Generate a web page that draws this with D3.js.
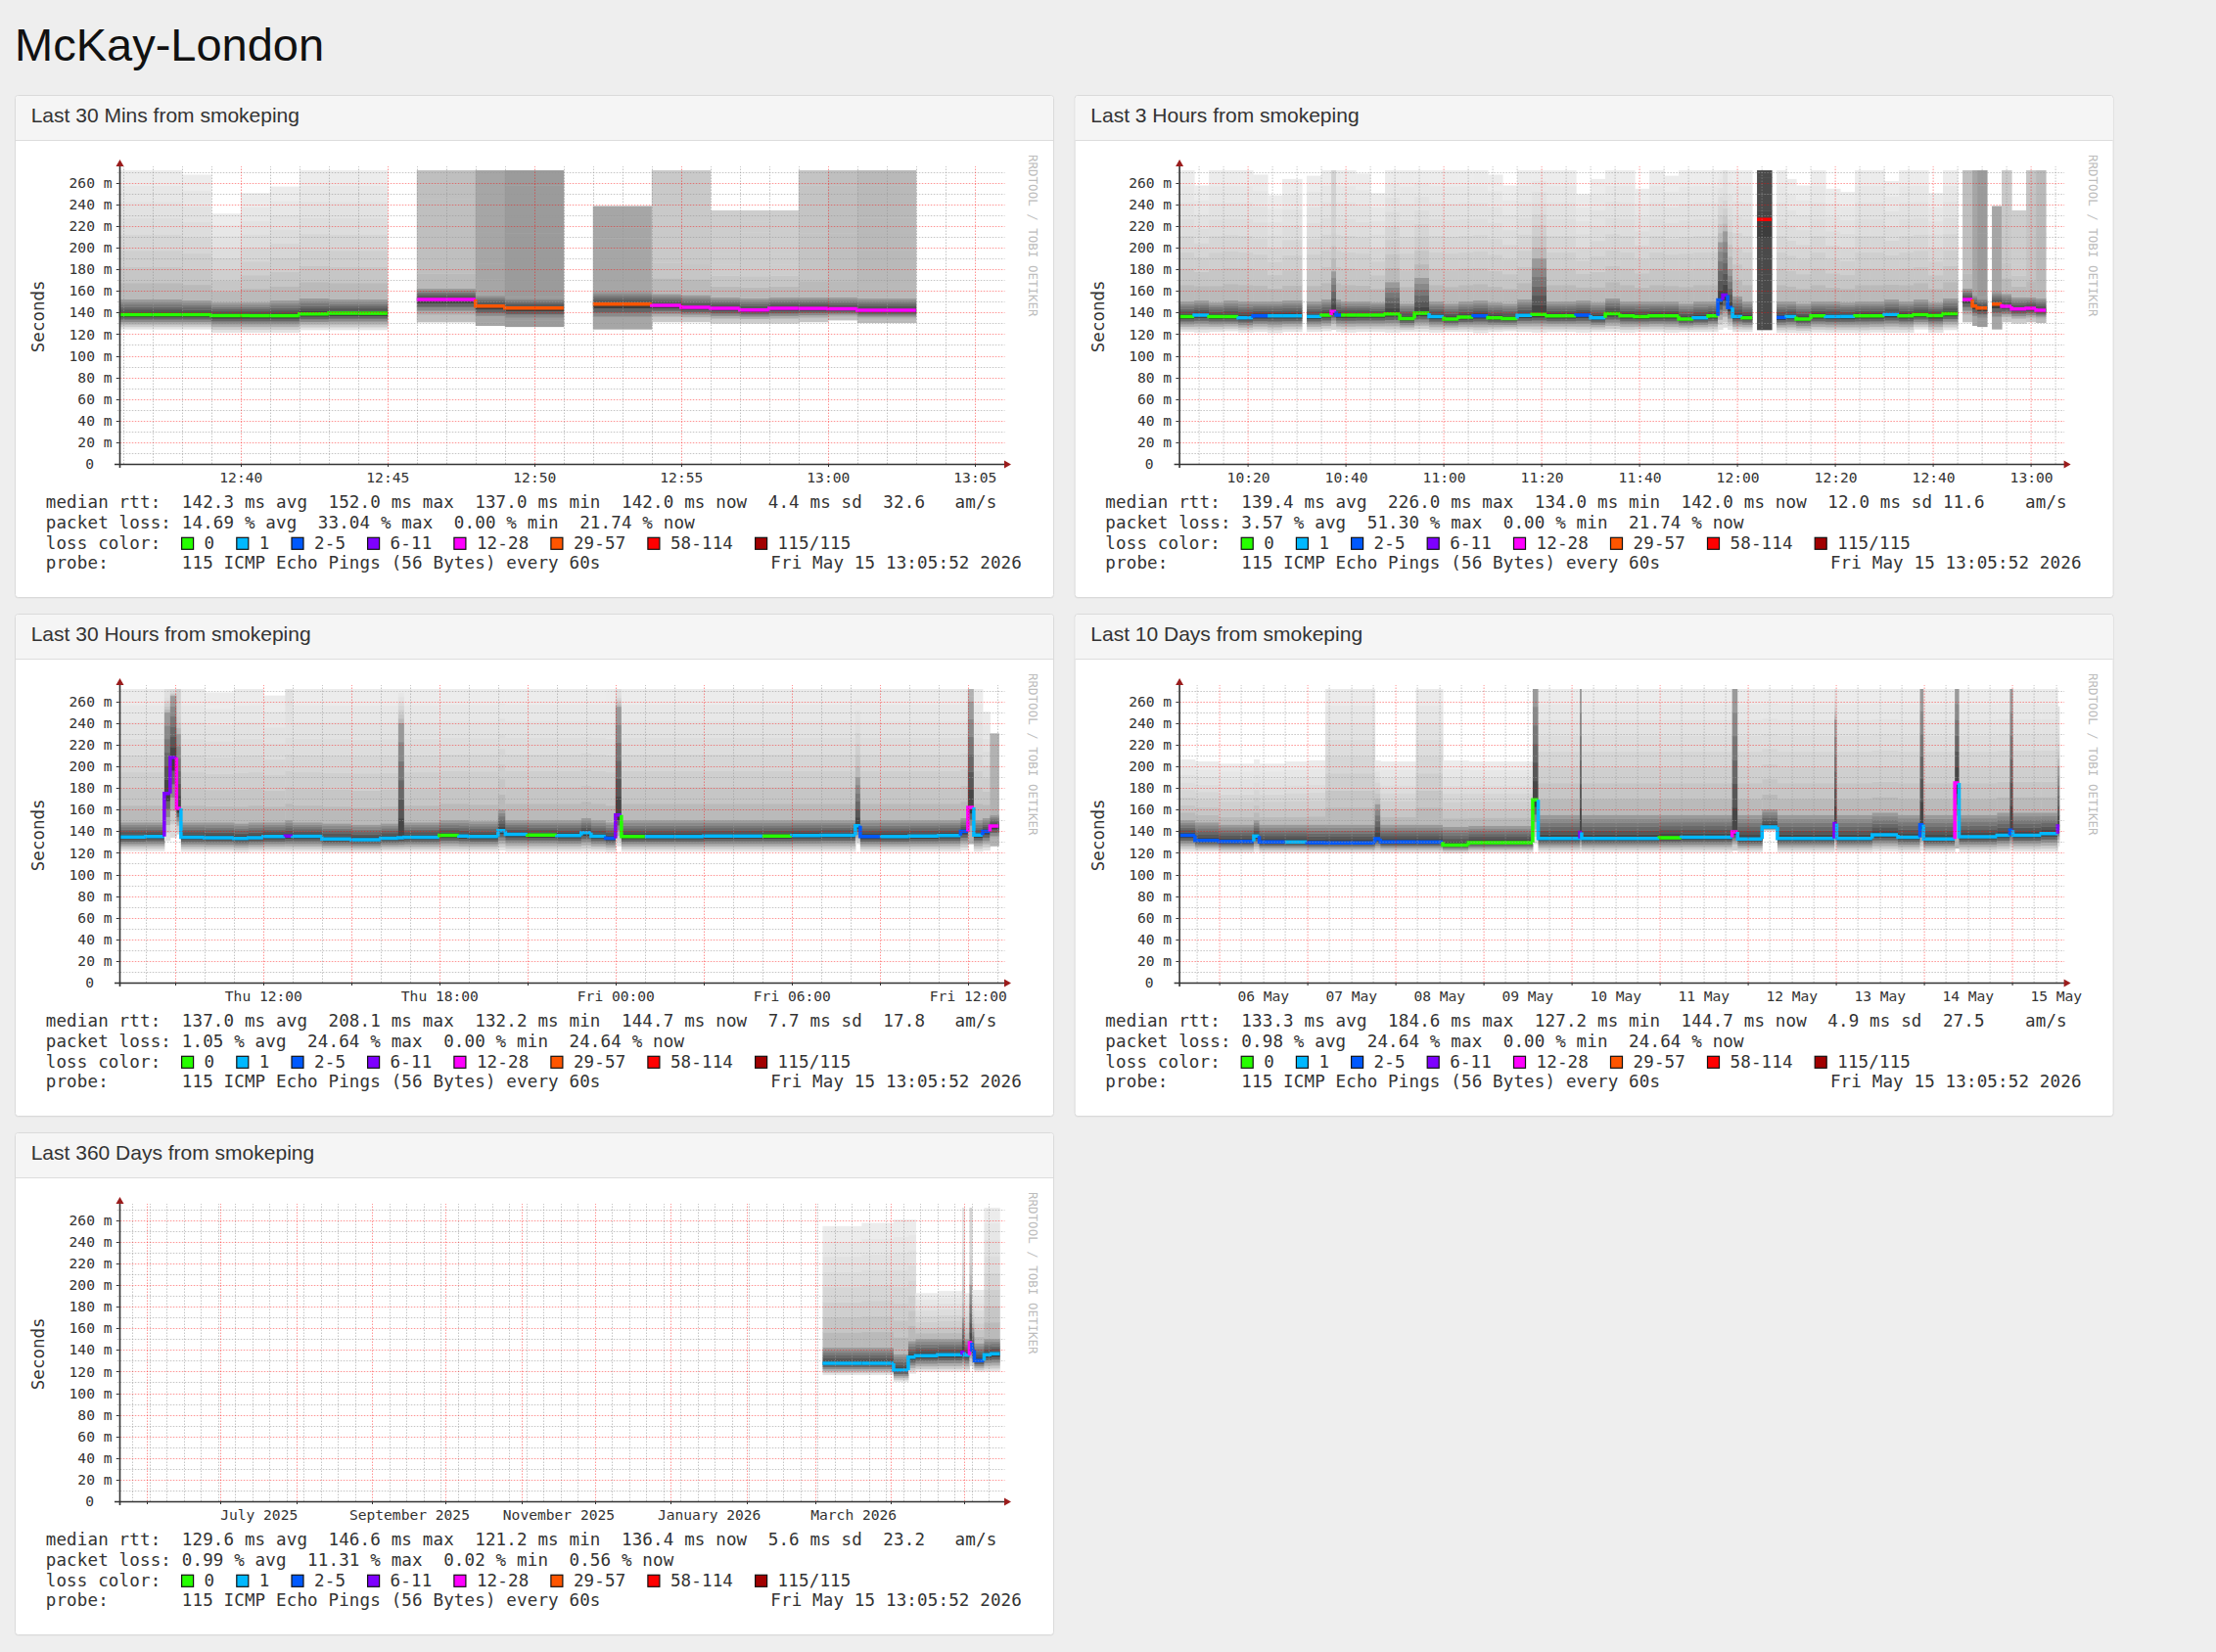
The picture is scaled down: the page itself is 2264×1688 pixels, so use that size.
<!DOCTYPE html>
<html>
<head>
<meta charset="utf-8">
<title>McKay-London</title>
<script src="https://cdn.jsdelivr.net/npm/d3@7"></script>
<style>
  html, body { margin: 0; padding: 0; background: #eeeeee; }
  svg { display: block; }
  .mono { font-family: "DejaVu Sans Mono", monospace; }
  .sans { font-family: "Liberation Sans", Arial, Helvetica, sans-serif; }
</style>
</head>
<body>
<svg id="page" width="2264" height="1688"></svg>
<script>
// ---------- data ----------
const pageTitle = "McKay-London";
const endStamp = "2026-05-15 13:05:52";
const lossColors = ["#26ff00", "#00b8ff", "#0059ff", "#7e00ff", "#ff00ff", "#ff5500", "#ff0000", "#a10000"];
const lossLabels = ["0", "1", "2-5", "6-11", "12-28", "29-57", "58-114", "115/115"];
const yTicks = [0, 20, 40, 60, 80, 100, 120, 140, 160, 180, 200, 220, 240, 260];
const probeText = "115 ICMP Echo Pings (56 Bytes) every 60s";
const stampText = "Fri May 15 13:05:52 2026";

// last 30 mins (bin start times, each bin ends where the next one starts)
const p1Time = ["12:35","12:37","12:38","12:39","12:40","12:41","12:42","12:43","12:44","12:45","12:46","12:48","12:49","12:51","12:52","12:54","12:55","12:56","12:57","12:58","12:59","13:00","13:01"];
const p1End = "13:03";
const p1Med = [137.9,137.9,137.9,137.0,137.0,137.0,138.8,139.3,139.3,null,152.0,145.9,144.1,null,147.8,146.5,144.9,143.8,142.4,143.8,143.8,143.4,142.0];
const p1Lo = [124.3,124.3,124.3,121.3,121.3,121.3,123.7,123.7,123.7,null,130.9,127.6,126.6,null,124.3,131.0,131.0,129.7,129.7,129.7,131.0,132.7,130.3];
const p1Q3 = [152,152,151,149,149,151,153,152,152,null,162,156,154,null,159,157,156,154,153,154,154,154,153];
const p1Hi = [272,272,267,231,250,256,272,272,272,null,272,272,272,null,238,272,272,234,234,234,272,272,272];
const p1Loss = [0,0,0,0,0,0,0,0,0,null,22,33,38,null,33,18,18,16,16,16,20,22,25];
const p1LabelAt = ["12:40","12:45","12:50","12:55","13:00","13:05"];
const p1LabelText = ["12:40","12:45","12:50","12:55","13:00","13:05"];
const p1Rtt = ["142.3","152.0","137.0","142.0","4.4","32.6"];
const p1Pl = ["14.69","33.04","0.00","21.74"];

// last 3 hours
const p2Time = ["10:05","10:09","10:12","10:15","10:18","10:21","10:24","10:27","10:31","10:32","10:35","10:37","10:38","10:39","10:42","10:45","10:48","10:51","10:54","10:57","11:00","11:03","11:06","11:09","11:12","11:15","11:18","11:21","11:24","11:27","11:30","11:33","11:36","11:39","11:42","11:45","11:48","11:51","11:54","11:56","11:57","11:58","11:59","12:01","12:03","12:04","12:07","12:08","12:10","12:12","12:15","12:18","12:21","12:24","12:27","12:30","12:33","12:36","12:39","12:42","12:45","12:46","12:48","12:49","12:51","12:52","12:54","12:56","12:59","13:01"];
const p2End = "13:03";
const p2Med = [136.3,137.6,136.3,136.3,135.1,136.9,136.9,136.9,null,136.3,137.6,140.9,137.6,137.6,137.6,137.6,138.8,134.5,139.4,136.3,134.0,135.7,136.9,135.1,134.5,137.3,138.2,136.9,136.9,137.6,135.1,139.0,136.9,136.3,136.9,136.9,134.0,135.1,136.9,151.5,156.0,144.5,136.3,135.1,null,226.0,null,135.4,136.3,134.0,136.9,136.3,136.3,136.9,136.9,138.2,136.9,137.9,137.0,139.0,null,152.0,145.9,144.1,null,147.8,145.7,143.3,143.8,142.0];
const p2Lo = [122,121.5,122,122.5,121.5,122,121,122,null,122,122.5,124,122,121.5,122,122,121.5,122,122,121.5,122,122,121,122,122.5,122,121.5,122,122,121.5,122,122,121.5,122,122,121.5,122,122,122,124,126,124,122,122,null,123.7,null,121.3,121.3,121,121.5,121.3,121.3,121,121.5,121.3,121.3,124.3,121.3,123.7,null,130.9,127.6,126.6,null,124.3,131.0,129.7,131.0,130.3];
const p2Q3 = [150,151,149,151,150,150,150,151,null,150,152,178,152,150,150,149,168,148,172,150,148,150,151,149,148,152,190,150,150,151,149,153,150,150,150,150,148,150,150,205,215,180,155,150,null,272,null,150,150,148,150,150,149,150,150,152,150,152,149,153,null,162,156,154,null,159,157,154,154,153];
const p2Hi = [272,257,272,272,272,267,248,263,null,266,272,272,272,272,268,250,272,272,272,272,272,272,272,267,257,272,272,272,272,249,263,272,272,254,272,266,272,272,272,272,272,272,272,272,null,272,null,272,263,257,272,254,251,272,272,261,272,272,250,272,null,272,272,272,null,238,272,234,272,272];
const p2Loss = [0,1,0,0,1,3,1,1,null,1,0,14,3,0,0,0,0,0,0,1,0,0,3,0,0,1,0,0,0,3,1,0,0,0,0,0,0,1,0,4,8,3,1,0,null,59,null,3,1,0,0,1,1,0,0,1,0,0,0,0,null,22,33,38,null,33,18,16,20,25];
const p2LabelAt = ["10:20","10:40","11:00","11:20","11:40","12:00","12:20","12:40","13:00"];
const p2LabelText = ["10:20","10:40","11:00","11:20","11:40","12:00","12:20","12:40","13:00"];
const p2Rtt = ["139.4","226.0","134.0","142.0","12.0","11.6"];
const p2Pl = ["3.57","51.30","0.00","21.74"];

// last 30 hours
const p3Time = ["05-14 07:00","05-14 08:00","05-14 08:38","05-14 08:50","05-14 09:03","05-14 09:12","05-14 10:00","05-14 11:00","05-14 11:30","05-14 12:00","05-14 12:45","05-14 13:00","05-14 14:00","05-14 15:00","05-14 16:00","05-14 16:36","05-14 16:48","05-14 18:00","05-14 18:40","05-14 19:00","05-14 20:00","05-14 20:15","05-14 21:00","05-14 22:00","05-14 22:50","05-14 23:10","05-14 23:40","05-15 00:00","05-15 00:12","05-15 01:00","05-15 02:00","05-15 03:00","05-15 04:00","05-15 05:00","05-15 06:00","05-15 07:00","05-15 08:10","05-15 08:20","05-15 09:00","05-15 10:00","05-15 11:00","05-15 11:45","05-15 12:00","05-15 12:12","05-15 12:30","05-15 12:45"];
const p3End = "05-15 13:03";
const p3Med = [134.7,135.0,175.0,208.1,161.0,134.5,134.0,133.2,134.0,135.0,135.5,135.3,132.8,132.2,133.5,133.9,134.5,136.3,135.5,135.0,140.5,137.0,136.5,136.0,138.6,135.4,133.5,155.0,135.0,135.0,135.0,135.5,135.5,135.5,136.0,136.3,145.0,135.0,135.0,135.5,136.0,139.8,162.0,136.5,139.8,144.7];
const p3Lo = [121.5,121.5,131,134,137,121,121,120.5,121,121,121,121,120.5,120.5,121,121,121,121,121,121,122,121,121,121,121,121,120.5,126,121,121,121,121,121,121,121,121,128,121,121,121,121,122,128,121,122,126];
const p3Q3 = [148,148,250,265,230,148,148,147,148,148,150,148,147,146,147,240,148,150,150,149,160,150,150,150,152,150,148,255,150,150,150,150,150,150,150,150,190,150,150,150,150,152,260,150,152,155];
const p3Hi = [272,272,272,272,272,272,268,272,272,265,272,272,272,272,272,272,272,272,272,272,272,272,272,272,272,272,272,272,272,272,272,272,272,272,272,272,272,272,272,272,272,272,272,272,250,230];
const p3Loss = [1,1,8,10,14,1,1,1,1,1,7,1,1,1,1,1,1,0,1,1,1,1,0,1,1,1,3,8,0,1,1,1,1,0,1,1,1,3,1,1,1,3,28,1,3,28];
const p3LabelAt = ["05-14 12:00","05-14 18:00","05-15 00:00","05-15 06:00","05-15 12:00"];
const p3LabelText = ["Thu 12:00","Thu 18:00","Fri 00:00","Fri 06:00","Fri 12:00"];
const p3Rtt = ["137.0","208.1","132.2","144.7","7.7","17.8"];
const p3Pl = ["1.05","24.64","0.00","24.64"];

// last 10 days
const p4Time = ["05-05 13:00","05-05 17:30","05-06 00:00","05-06 09:30","05-06 11:00","05-06 18:00","05-07 00:00","05-07 05:00","05-07 18:30","05-07 20:00","05-08 05:40","05-08 13:00","05-08 20:00","05-09 13:30","05-09 15:00","05-10 02:20","05-10 02:50","05-11 00:00","05-11 06:00","05-11 19:50","05-11 21:20","05-12 04:00","05-12 08:10","05-12 23:40","05-13 00:20","05-13 10:00","05-13 17:00","05-13 23:00","05-14 00:00","05-14 08:30","05-14 09:40","05-14 20:00","05-14 23:30","05-15 00:20","05-15 08:00","05-15 12:30"];
const p4End = "05-15 13:03";
const p4Med = [136.3,131.5,130.5,135.5,130.0,130.0,129.5,129.3,133.0,130.0,130.0,127.2,129.5,169.0,133.3,139.0,133.3,134.0,134.3,139.4,132.7,143.8,133.3,147.0,133.3,136.6,134.5,146.0,132.7,184.6,134.8,136.3,141.0,136.3,137.8,144.7];
const p4Lo = [121,121,120,121,120,120,120,120,120,120,120,119.5,120,128,120.5,121,120.5,120.5,120.5,122,120.5,140,120.5,122,120.5,121,120.5,122,120.5,124,120.5,121,122,121,121,126];
const p4Q3 = [150,148,146,150,146,146,146,146,165,146,146,144,145,272,155,272,155,155,155,272,155,160,155,243,155,157,155,272,155,272,155,157,272,157,157,200];
const p4Hi = [206,204,202,206,202,204,205,272,205,204,272,205,204,272,272,272,272,272,272,272,272,272,272,272,272,272,272,272,272,272,272,272,272,272,272,255];
const p4Loss = [3,3,3,1,3,1,3,3,3,3,3,0,0,0,1,7,1,0,1,15,1,1,1,7,1,1,1,3,1,28,1,1,3,1,1,8];
const p4LabelAt = ["05-06 12:00","05-07 12:00","05-08 12:00","05-09 12:00","05-10 12:00","05-11 12:00","05-12 12:00","05-13 12:00","05-14 12:00","05-15 12:00"];
const p4LabelText = ["06 May","07 May","08 May","09 May","10 May","11 May","12 May","13 May","14 May","15 May"];
const p4Rtt = ["133.3","184.6","127.2","144.7","4.9","27.5"];
const p4Pl = ["0.98","24.64","0.00","24.64"];

// last 360 days
const p5Time = ["2026-03-04","2026-03-20","2026-04-02","2026-04-08","2026-04-11","2026-04-20","2026-04-30","2026-05-01","2026-05-03","2026-05-04","2026-05-05","2026-05-09","2026-05-12"];
const p5End = "2026-05-15 13:03";
const p5Med = [127.7,127.7,121.2,133.2,134.7,135.5,137.7,135.0,146.6,140.0,130.1,135.5,136.4];
const p5Lo = [116.7,116.7,110.6,118,119.7,119.7,120,119.7,125,122,119.7,120,120];
const p5Q3 = [142,142,136,148,150,150,170,150,200,160,146,150,150];
const p5Hi = [254,257,260,260,192,194,272,192,272,195,195,272,272];
const p5Loss = [1,1,1,1,1,1,6,1,13,3,2,1,1];
const p5LabelAt = ["2025-07-16 12:00","2025-09-16 00:00","2025-11-16 00:00","2026-01-16 12:00","2026-03-16 12:00"];
const p5LabelText = ["July 2025","September 2025","November 2025","January 2026","March 2026"];
const p5Rtt = ["129.6","146.6","121.2","136.4","5.6","23.2"];
const p5Pl = ["0.99","11.31","0.02","0.56"];

// ---------- layout ----------
const PW = 1062, PH = 514, HH = 46;
const PANEL_X = [15, 1097.6], PANEL_Y = [97, 627, 1157];
const X0 = 106.8, X1 = 1006.8, YB = 377, YT = 77, GRID_R = 1011.5;
const ROWS = [422.3, 443, 463.7, 484.3];

const parseFull = d3.timeParse("%Y-%m-%d %H:%M");
const endTime = d3.timeParse("%Y-%m-%d %H:%M:%S")(endStamp);
function toDate(s) {
  if (s.length === 5) return parseFull("2026-05-15 " + s);
  if (s.length === 10) return parseFull(s + " 00:00");
  if (s.length === 11) return parseFull("2026-" + s);
  return parseFull(s);
}
// keep the runs of spaces of the rrdtool legend
const keep = s => s.replace(/ /g, "\u00a0");

const HOUR = 3600e3, DAY = 24 * HOUR;
const panels = [
  { title: "Last 30 Mins from smokeping", span: 0.5 * HOUR, time: p1Time, end: p1End, med: p1Med, lo: p1Lo, q3: p1Q3, hi: p1Hi, loss: p1Loss,
    at: p1LabelAt, txt: p1LabelText, minor: d3.timeMinute.every(1), major: d3.timeMinute.every(5), rtt: p1Rtt, pl: p1Pl, col: 0, row: 0, amX: 960.6 },
  { title: "Last 3 Hours from smokeping", span: 3 * HOUR, time: p2Time, end: p2End, med: p2Med, lo: p2Lo, q3: p2Q3, hi: p2Hi, loss: p2Loss,
    at: p2LabelAt, txt: p2LabelText, minor: d3.timeMinute.every(5), major: d3.timeMinute.every(20), rtt: p2Rtt, pl: p2Pl, col: 1, row: 0, amX: 971.4 },
  { title: "Last 30 Hours from smokeping", span: 30 * HOUR, time: p3Time, end: p3End, med: p3Med, lo: p3Lo, q3: p3Q3, hi: p3Hi, loss: p3Loss,
    at: p3LabelAt, txt: p3LabelText, minor: d3.timeHour.every(1), major: d3.timeHour.every(3), rtt: p3Rtt, pl: p3Pl, col: 0, row: 1, amX: 960.6 },
  { title: "Last 10 Days from smokeping", span: 10 * DAY, time: p4Time, end: p4End, med: p4Med, lo: p4Lo, q3: p4Q3, hi: p4Hi, loss: p4Loss,
    at: p4LabelAt, txt: p4LabelText, minor: d3.timeHour.every(6), major: d3.timeDay, rtt: p4Rtt, pl: p4Pl, col: 1, row: 1, amX: 971.4 },
  { title: "Last 360 Days from smokeping", span: 360 * DAY, time: p5Time, end: p5End, med: p5Med, lo: p5Lo, q3: p5Q3, hi: p5Hi, loss: p5Loss,
    at: p5LabelAt, txt: p5LabelText, minor: d3.timeMonday, major: d3.timeMonth, rtt: p5Rtt, pl: p5Pl, col: 0, row: 2, amX: 960.6 }
];

function lossClass(L) {
  if (L === 0) return 0;
  if (L === 1) return 1;
  if (L <= 5) return 2;
  if (L <= 11) return 3;
  if (L <= 28) return 4;
  if (L <= 57) return 5;
  if (L <= 114) return 6;
  return 7;
}
// grey level of the smoke above the received pings, darker when more were lost
function lossShade(L) {
  if (L <= 40) return 242 - 2.3 * L;
  const r = 1 - L / 115;
  return 70 + 170 * Math.abs(2 * r - 1);
}
function grey(v) { const c = Math.round(Math.max(40, Math.min(245, v))); return `rgb(${c},${c},${c})`; }

function smokeBands(lo, med, q3, hi, L) {
  const out = [], K = 6, ls = lossShade(L);
  for (let k = 0; k < K; k++) {
    const f = (k + 0.5) / K;
    out.push([lo + (med - lo) * k / K, lo + (med - lo) * (k + 1) / K, Math.min(235 - 195 * Math.pow(f, 1.3), ls)]);
  }
  for (let k = 0; k < K; k++) {
    const g = (k + 0.5) / K;
    out.push([med + (q3 - med) * k / K, med + (q3 - med) * (k + 1) / K, Math.min(62 + 100 * g, ls)]);
  }
  const KT = 8;
  for (let k = 0; k < KT; k++) {
    const h = (k + 0.5) / KT;
    out.push([q3 + (hi - q3) * k / KT, q3 + (hi - q3) * (k + 1) / KT, Math.min(168 + 70 * Math.pow(h, 0.5), ls)]);
  }
  return out;
}

const svg = d3.select("#page");
svg.append("text").attr("class", "sans").attr("x", 15).attr("y", 62)
  .attr("font-size", 47).attr("fill", "#111").text(pageTitle);

panels.forEach((p, i) => drawPanel(p, i));

function drawPanel(p, idx) {
  const g = svg.append("g").attr("transform", `translate(${PANEL_X[p.col]},${PANEL_Y[p.row]})`);

  // frame + heading
  g.append("rect").attr("x", 0.5).attr("y", 1.5).attr("width", PW - 1).attr("height", PH - 1)
    .attr("rx", 3).attr("fill", "#e2e2e2");
  g.append("rect").attr("x", 0.5).attr("y", 0.5).attr("width", PW - 1).attr("height", PH - 1)
    .attr("rx", 3).attr("fill", "#ffffff").attr("stroke", "#dadada");
  g.append("path").attr("d", `M1,${HH} V4 Q1,1 4,1 H${PW - 4} Q${PW - 1},1 ${PW - 1},4 V${HH} Z`).attr("fill", "#f5f5f5");
  g.append("line").attr("x1", 1).attr("x2", PW - 1).attr("y1", HH + 0.5).attr("y2", HH + 0.5).attr("stroke", "#dddddd");
  g.append("text").attr("class", "sans").attr("x", 16.7).attr("y", 28).attr("font-size", 21)
    .attr("fill", "#333").text(p.title);

  const start = new Date(+endTime - p.span);
  const x = d3.scaleTime().domain([start, endTime]).range([X0, X1]);
  const y = d3.scaleLinear().domain([0, 271.5]).range([YB, YT]);

  const clipId = "plotclip" + idx;
  g.append("clipPath").attr("id", clipId).append("rect")
    .attr("x", X0).attr("y", YT).attr("width", X1 - X0).attr("height", YB - YT);
  const plot = g.append("g").attr("clip-path", `url(#${clipId})`);

  // bins
  const bins = p.time.map((t, i) => ({
    t0: toDate(t), t1: toDate(i + 1 < p.time.length ? p.time[i + 1] : p.end),
    med: p.med[i], lo: p.lo[i], q3: p.q3[i], hi: p.hi[i], loss: p.loss[i]
  }));

  // smoke
  const rects = [];
  bins.forEach(b => {
    if (b.med == null) return;
    smokeBands(b.lo, b.med, b.q3, b.hi, b.loss).forEach(([v0, v1, c]) => {
      if (v1 > v0) rects.push({ t0: b.t0, t1: b.t1, v0, v1, c });
    });
  });
  plot.append("g").selectAll("rect").data(rects).join("rect")
    .attr("x", d => x(d.t0))
    .attr("width", d => x(d.t1) - x(d.t0) + 0.5)
    .attr("y", d => y(d.v1) - 0.5)
    .attr("height", d => y(d.v0) - y(d.v1) + 0.5)
    .attr("fill", d => grey(d.c));

  // grid
  const grid = g.append("g").attr("fill", "none").attr("stroke-width", 1).attr("stroke-dasharray", "1.5,1.5");
  const majorT = p.major.range(start, endTime);
  const majorSet = new Set(majorT.map(Number));
  const minorT = p.minor.range(start, endTime).filter(t => !majorSet.has(+t));
  const hMinor = d3.range(10, 271, 20), hMajor = yTicks.filter(v => v > 0);
  grid.selectAll("line.hmin").data(hMinor).join("line").attr("class", "hmin")
    .attr("x1", X0 - 2).attr("x2", GRID_R).attr("y1", d => Math.round(y(d)) + 0.5).attr("y2", d => Math.round(y(d)) + 0.5)
    .attr("stroke", "rgba(150,150,150,0.55)");
  grid.selectAll("line.vmin").data(minorT).join("line").attr("class", "vmin")
    .attr("x1", d => Math.round(x(d)) + 0.5).attr("x2", d => Math.round(x(d)) + 0.5).attr("y1", YB).attr("y2", YT - 4)
    .attr("stroke", "rgba(150,150,150,0.55)");
  grid.selectAll("line.hmaj").data(hMajor).join("line").attr("class", "hmaj")
    .attr("x1", X0 - 2).attr("x2", GRID_R).attr("y1", d => Math.round(y(d)) + 0.5).attr("y2", d => Math.round(y(d)) + 0.5)
    .attr("stroke", "rgba(255,0,0,0.42)");
  grid.selectAll("line.vmaj").data(majorT).join("line").attr("class", "vmaj")
    .attr("x1", d => Math.round(x(d)) + 0.5).attr("x2", d => Math.round(x(d)) + 0.5).attr("y1", YB).attr("y2", YT - 4)
    .attr("stroke", "rgba(255,0,0,0.42)");

  // median rtt, coloured by packet loss
  const medG = plot.append("g").attr("fill", "none").attr("stroke-width", 3.5).attr("stroke-linejoin", "miter");
  bins.forEach((b, i) => {
    if (b.med == null) return;
    const prev = i > 0 ? bins[i - 1] : null;
    const ym = y(b.med), xa = x(b.t0), xb = x(b.t1);
    const d = (prev && prev.med != null)
      ? `M${xa},${y(prev.med)}V${ym}H${xb}`
      : `M${xa},${ym}H${xb}`;
    medG.append("path").attr("d", d).attr("stroke", lossColors[lossClass(b.loss)]);
  });

  // axes
  const axisCol = "#333";
  g.append("line").attr("x1", 102).attr("x2", 1013).attr("y1", YB + 0.5).attr("y2", YB + 0.5)
    .attr("stroke", axisCol).attr("stroke-width", 1.6);
  g.append("line").attr("x1", X0 + 0.7).attr("x2", X0 + 0.7).attr("y1", YB + 4).attr("y2", 71)
    .attr("stroke", axisCol).attr("stroke-width", 1.6);
  g.append("path").attr("d", `M1018,${YB + 0.5} L1011,${YB - 3.5} L1011,${YB + 4.5} Z`).attr("fill", "#9b1c1c");
  g.append("path").attr("d", `M${X0 + 0.7},66 L${X0 - 3.3},73 L${X0 + 4.7},73 Z`).attr("fill", "#9b1c1c");
  g.append("g").selectAll("line").data(majorT).join("line")
    .attr("x1", d => Math.round(x(d)) + 0.5).attr("x2", d => Math.round(x(d)) + 0.5)
    .attr("y1", YB).attr("y2", YB + 3).attr("stroke", axisCol);
  g.append("g").selectAll("line").data(hMajor).join("line")
    .attr("x1", X0 - 3).attr("x2", X0).attr("y1", d => Math.round(y(d)) + 0.5).attr("y2", d => Math.round(y(d)) + 0.5)
    .attr("stroke", axisCol);

  const yAxis = g.append("g").attr("class", "mono").attr("transform", `translate(${X0},0)`)
    .call(d3.axisLeft(y).tickValues(yTicks).tickSize(0).tickPadding(X0 - 99.5)
      .tickFormat(d => d === 0 ? "0" : keep(d + " m")));
  yAxis.select(".domain").remove();
  yAxis.selectAll("text").attr("font-size", 14.6).attr("fill", "#333")
    .attr("font-family", "DejaVu Sans Mono, monospace")
    .attr("dx", d => d === 0 ? -18.5 : 0);

  const labelDates = p.at.map(toDate);
  const xAxis = g.append("g").attr("transform", `translate(0,${YB})`)
    .call(d3.axisBottom(x).tickValues(labelDates).tickSize(0).tickPadding(9)
      .tickFormat((d, i) => keep(p.txt[i])));
  xAxis.select(".domain").remove();
  xAxis.selectAll("text").attr("font-size", 14.6).attr("fill", "#333")
    .attr("font-family", "DejaVu Sans Mono, monospace");

  g.append("text").attr("class", "mono").attr("transform", "translate(29.9,226.3) rotate(-90)")
    .attr("text-anchor", "middle").attr("font-size", 17.5).attr("fill", "#333").text("Seconds");
  g.append("text").attr("class", "mono").attr("transform", "translate(1036,61) rotate(90)")
    .attr("font-size", 12.5).attr("fill", "#bdbdbd").text(keep("RRDTOOL / TOBI OETIKER"));

  // legend
  const leg = g.append("g").attr("class", "mono").attr("font-size", 17.5)
    .attr("letter-spacing", 0.16).attr("fill", "#333");
  const r = p.rtt;
  leg.append("text").attr("x", 31.7).attr("y", ROWS[0])
    .text(keep(`median rtt:  ${r[0]} ms avg  ${r[1]} ms max  ${r[2]} ms min  ${r[3]} ms now  ${r[4]} ms sd`));
  leg.append("text").attr("x", 887.3).attr("y", ROWS[0]).text(r[5]);
  leg.append("text").attr("x", p.amX).attr("y", ROWS[0]).text("am/s");
  const l = p.pl;
  leg.append("text").attr("x", 31.7).attr("y", ROWS[1])
    .text(keep(`packet loss: ${l[0]} % avg  ${l[1]} % max  ${l[2]} % min  ${l[3]} % now`));
  leg.append("text").attr("x", 31.7).attr("y", ROWS[2]).text(keep("loss color:"));
  let bx = 170.1;
  lossLabels.forEach((lab, i) => {
    leg.append("rect").attr("x", bx + 0.5).attr("y", ROWS[2] - 11.4).attr("width", 12).attr("height", 12)
      .attr("fill", lossColors[i]).attr("stroke", "#111").attr("stroke-width", 1.2);
    leg.append("text").attr("x", bx + 23.5).attr("y", ROWS[2]).text(lab);
    bx = bx + 23.5 + lab.length * 10.7 + 22;
  });
  leg.append("text").attr("x", 31.7).attr("y", ROWS[3]).text(keep("probe:       " + probeText));
  leg.append("text").attr("x", 1029).attr("y", ROWS[3]).attr("text-anchor", "end").text(keep(stampText));
}
</script>
</body>
</html>
